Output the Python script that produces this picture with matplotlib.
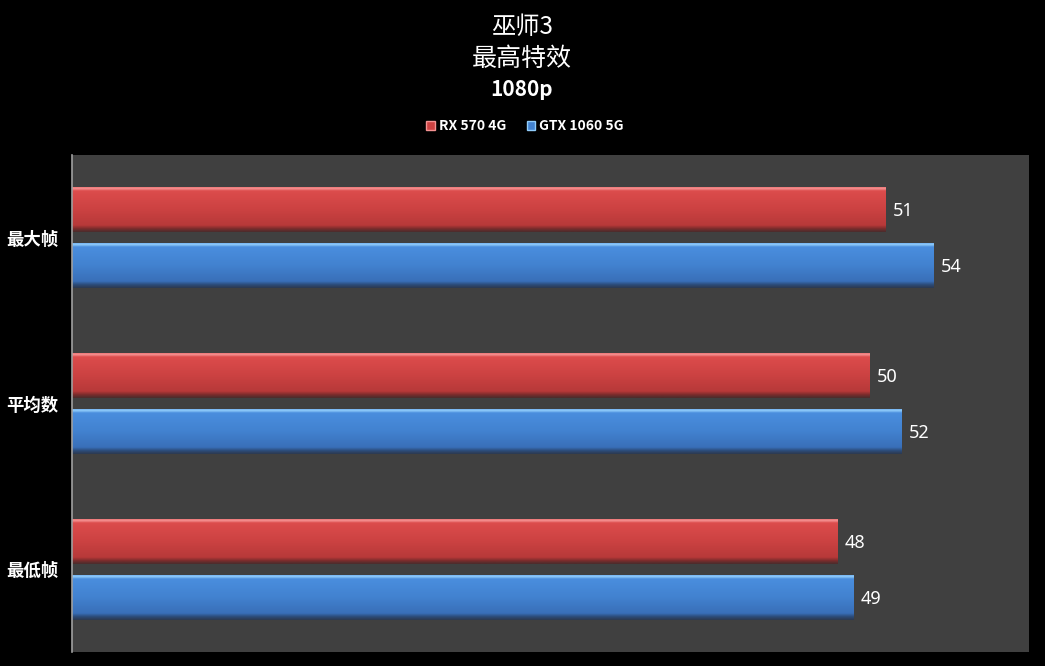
import numpy as np
import matplotlib.pyplot as plt
from matplotlib.colors import LinearSegmentedColormap
from matplotlib.patches import Rectangle

plt.rcParams['font.family'] = ['Noto Sans CJK SC', 'DejaVu Sans']

categories = ['最大帧', '平均数', '最低帧']
series_names = ['RX 570 4G', 'GTX 1060 5G']
rx570 = [51, 50, 48]
gtx1060 = [54, 52, 49]

W, H = 1045, 666
fig = plt.figure(figsize=(W / 100, H / 100), dpi=100, facecolor='black')
ax = fig.add_axes([72 / W, (H - 652) / H, (1029 - 72) / W, (652 - 155) / H])
ax.set_facecolor('#404040')

# colour runs from the top edge of a bar (0) to its bottom edge (1)
red_cmap = LinearSegmentedColormap.from_list(
    'r', [(0, '#e86a6a'), (0.05, '#f59292'), (0.1, '#dc4c4c'), (0.5, '#cc4242'),
          (0.86, '#b73939'), (0.93, '#7c2c2c'), (1, '#4c2c2c')])
blue_cmap = LinearSegmentedColormap.from_list(
    'b', [(0, '#6aaaf0'), (0.05, '#90ccfa'), (0.1, '#4a8ede'), (0.5, '#4282d0'),
          (0.86, '#396fb8'), (0.93, '#2c4c7a'), (1, '#2c3a52')])

bar_h = 0.272
gap = 0.066
y = np.arange(len(categories))
grad = np.linspace(0, 1, 90).reshape(-1, 1)

ax.set_xlim(0, 60)
ax.set_ylim(len(categories) - 0.5, -0.5)

for vals, offset, cmap in [(rx570, -(bar_h + gap) / 2, red_cmap),
                           (gtx1060, (bar_h + gap) / 2, blue_cmap)]:
    bars = ax.barh(y + offset, vals, height=bar_h, color='none', edgecolor='none')
    for b, v in zip(bars, vals):
        x0, y0 = b.get_x(), b.get_y()
        w, h = b.get_width(), b.get_height()
        im = ax.imshow(grad, cmap=cmap, aspect='auto', origin='upper',
                       extent=[x0, x0 + w, y0 + h, y0], zorder=2)
        im.set_clip_path(b)
        ax.text(v + 0.45, y0 + h / 2 + 0.01, str(v), color='white', fontsize=13,
                va='center', ha='left', family=['Noto Sans', 'DejaVu Sans'])

ax.set_yticks(y)
ax.set_yticklabels(categories, color='white', fontsize=12.5, fontweight='bold')
ax.tick_params(axis='y', length=0, pad=10)
ax.set_xticks([])
for s in ['top', 'right', 'bottom']:
    ax.spines[s].set_visible(False)
ax.spines['left'].set_color('#a0a0a0')
ax.spines['left'].set_linewidth(1.2)

# title
fig.text(522 / W, 1 - 27 / H, '巫师3', color='white', fontsize=17.5, ha='center', va='center')
fig.text(522 / W, 1 - 59 / H, '最高特效', color='white', fontsize=18, ha='center', va='center')
fig.text(522 / W, 1 - 90 / H, '1080p', color='white', fontsize=15, fontweight='bold',
         ha='center', va='center')

# legend
handles = [Rectangle((0, 0), 1, 1, facecolor='#cc4242', edgecolor='#f59292'),
           Rectangle((0, 0), 1, 1, facecolor='#4282d0', edgecolor='#90ccfa')]
leg = fig.legend(handles, series_names, loc='center', bbox_to_anchor=(525 / W, 1 - 126 / H),
                 ncol=2, frameon=False, handlelength=0.6, handleheight=0.6,
                 handletextpad=0.3, columnspacing=1.5,
                 prop={'size': 10, 'weight': 'bold'})
for t in leg.get_texts():
    t.set_color('white')

fig.savefig('out.png', dpi=100, facecolor='black')
